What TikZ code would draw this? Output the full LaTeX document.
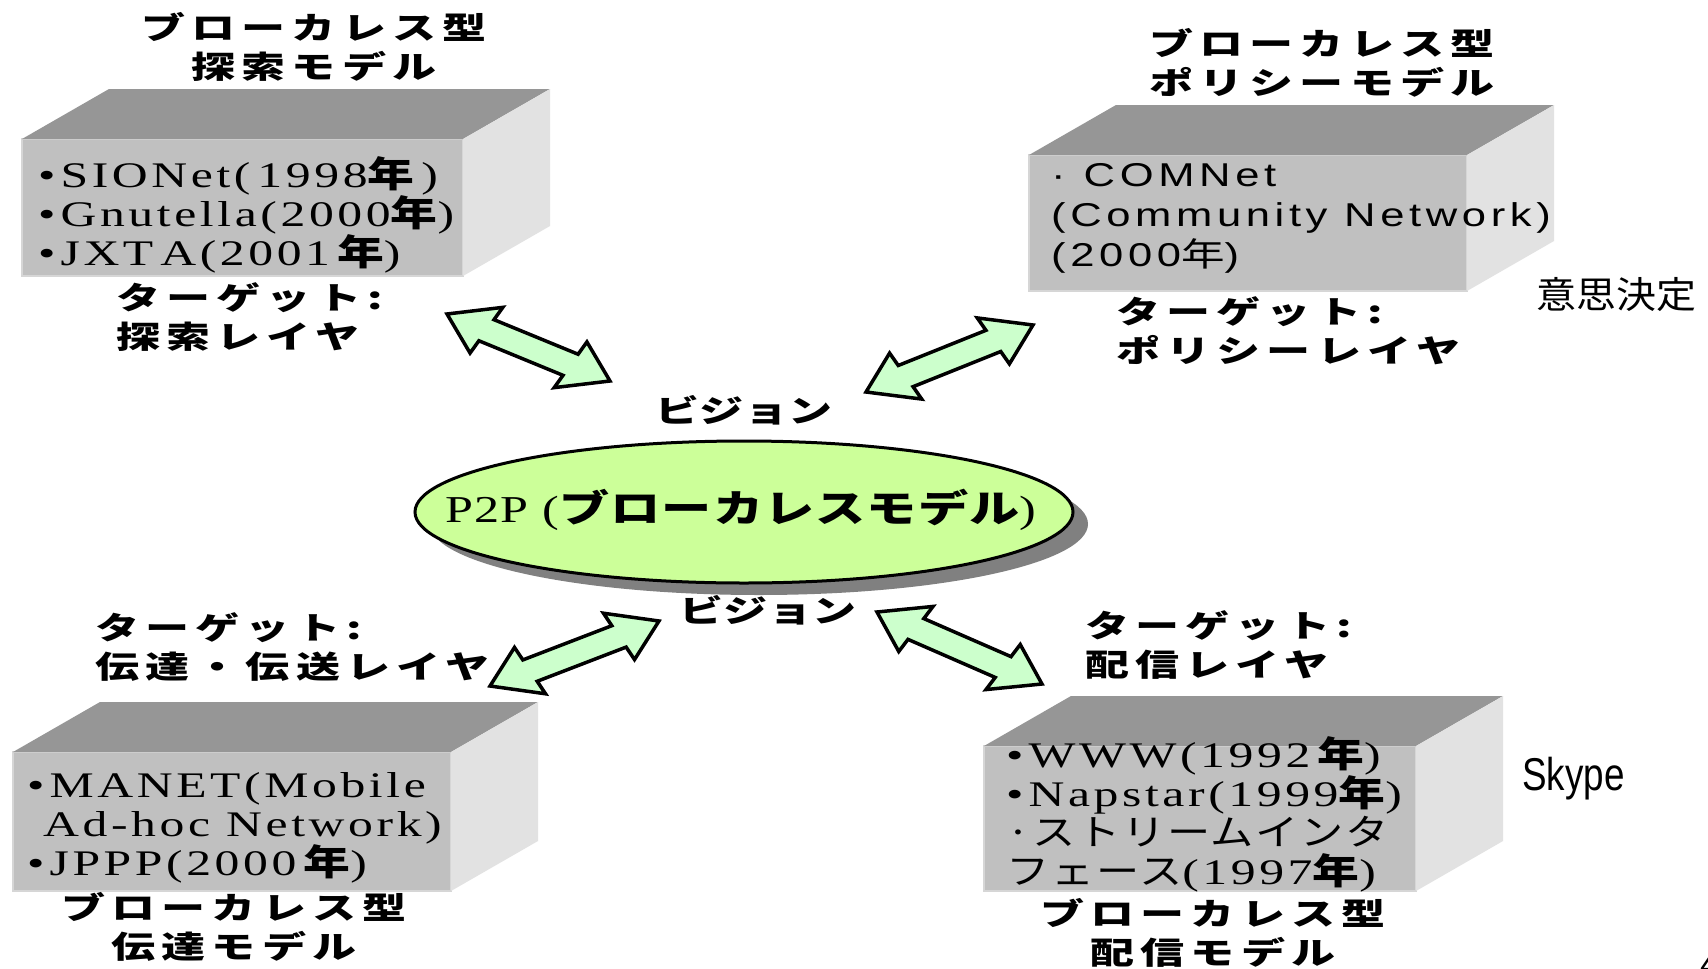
\documentclass[tikz,border=0pt]{standalone}
\usepackage{fontspec}
\usetikzlibrary{shapes.geometric,shadows,calc}
\setmainfont{Liberation Serif}
\newfontfamily\jtitle{Noto Sans CJK JP}[FakeStretch=1.42,LetterSpace=20]
\newfontfamily\jvis{Noto Sans CJK JP}[FakeStretch=1.42,LetterSpace=0]
\newfontfamily\jell{Noto Sans CJK JP}[FakeStretch=1.32,LetterSpace=3]
\newfontfamily\sell{Liberation Serif}[FakeStretch=1.32,LetterSpace=3]
\newfontfamily\bxserif{Liberation Serif}[FakeStretch=1.38,LetterSpace=10]
\newfontfamily\bxsans{Liberation Sans}[FakeStretch=1.32,LetterSpace=14]
\newfontfamily\bxjpb{Noto Sans CJK JP}[FakeStretch=1.3,LetterSpace=10]
\newfontfamily\bxjpr{Noto Sans CJK JP}[FakeStretch=1.2,LetterSpace=5]
\newfontfamily\bxjps{Noto Sans CJK JP}[FakeStretch=1.32,LetterSpace=14]
\newfontfamily\plainjp{Noto Sans CJK JP}[FakeStretch=1.08]
\newfontfamily\skypefont{Liberation Sans}[FakeStretch=0.8]
\newfontfamily\pgfontfam{Liberation Sans}
\newcommand\J[1]{{\bxjpb\bfseries #1}}
\newcommand\Jr[1]{{\bxjpr #1}}
\newcommand\Js[1]{{\bxjps #1}}
\newcommand\bul{•\hspace{5pt}}
\newcommand\gap{\hspace{7pt}}
\definecolor{topc}{HTML}{969696}
\definecolor{frontc}{HTML}{C0C0C0}
\definecolor{frontl}{HTML}{D6D6D6}
\definecolor{sidec}{HTML}{E2E2E2}
\definecolor{ellc}{HTML}{CCFF99}
\definecolor{arrc}{HTML}{CCFFCC}
\newcommand\arrs{1.32}
\newcommand\ahl{34}
\newcommand\ahw{26}
\newcommand\asw{12}
\newcommand\barrow[2]{%
  \path (#1); \pgfgetlastxy{\bxa}{\bya}%
  \path (#2); \pgfgetlastxy{\bxb}{\byb}%
  \pgfmathsetmacro\bdx{(\bxb-\bxa)/\arrs}%
  \pgfmathsetmacro\bdy{\byb-\bya}%
  \pgfmathsetmacro\bL{veclen(\bdx,\bdy)}%
  \pgfmathsetmacro\bth{atan2(\bdy,\bdx)}%
  \pgfmathsetmacro\bLh{\bL-\ahl}%
  \begin{scope}[shift={(\bxa,\bya)}, xscale=\arrs, rotate=\bth]
    \draw[blockarrow] (0pt,0pt) -- (\ahl pt,\ahw pt) -- (\ahl pt,\asw pt)
      -- (\bLh pt,\asw pt) -- (\bLh pt,\ahw pt) -- (\bL pt,0pt)
      -- (\bLh pt,-\ahw pt) -- (\bLh pt,-\asw pt) -- (\ahl pt,-\asw pt)
      -- (\ahl pt,-\ahw pt) -- cycle;
  \end{scope}}
\newcommand\cubefaces[1]{%
  \fill[topc] (#1.north west) -- ++(87,-50) -- ($(#1.north east)+(87,-50)$) -- (#1.north east) -- cycle;
  \fill[sidec] (#1.north east) -- ++(87,-50) -- ($(#1.south east)+(87,-50)$) -- (#1.south east) -- cycle;}
\tikzset{
  front/.style={fill=frontc, draw=frontl, line width=1.5pt, inner sep=0pt, outer sep=0pt, anchor=north west},
  ttl/.style={font={\jtitle\bfseries\fontsize{31pt}{39pt}\selectfont}, align=center, inner sep=0pt},
  vis/.style={font={\jvis\bfseries\fontsize{31pt}{39pt}\selectfont}, inner sep=0pt},
  lbl/.style={font={\jtitle\bfseries\fontsize{31pt}{39pt}\selectfont}, align=left, inner sep=0pt, anchor=west},
  bxs/.style={font={\bxserif\fontsize{36pt}{39pt}\selectfont}, align=left, inner sep=0pt, anchor=west},
  bxa/.style={font={\bxsans\fontsize{33pt}{40pt}\selectfont}, align=left, inner sep=0pt, anchor=west},
  blockarrow/.style={fill=arrc, draw=black, line width=3.5pt, line join=miter},
  ellnode/.style={ellipse, fill=ellc, draw=black, line width=3pt, minimum width=658pt, minimum height=142pt, inner sep=0pt,
    drop shadow={shadow xshift=15pt, shadow yshift=-12pt, opacity=1, fill=black!50}},
  elltext/.style={font={\fontsize{38pt}{40pt}\selectfont}, inner sep=0pt},
  plain/.style={inner sep=0pt, anchor=west}
}
\begin{document}
\begin{tikzpicture}[x=1pt, y=-1pt]
\fill[white] (0,0) rectangle (1708,969);
\useasboundingbox (0,0) rectangle (1708,969);

% cuboids
\node[front, minimum width=441pt, minimum height=137pt] (b1) at (22,139) {};
\cubefaces{b1}
\node[front, minimum width=438pt, minimum height=136pt] (b2) at (1029,155) {};
\cubefaces{b2}
\node[front, minimum width=438pt, minimum height=139pt] (b3) at (13,752) {};
\cubefaces{b3}
\node[front, minimum width=432pt, minimum height=145pt] (b4) at (984,746) {};
\cubefaces{b4}

% titles
\node[ttl] (t1) at (314,47) {ブローカレス型\\探索モデル};
\node[ttl] (t2) at (1322,63) {ブローカレス型\\ポリシーモデル};
\node[ttl] (t3) at (234,927) {ブローカレス型\\伝達モデル};
\node[ttl] (t4) at (1213,933) {ブローカレス型\\配信モデル};

% target labels
\node[lbl] (l1) at (116,317) {ターゲット:\\探索レイヤ};
\node[lbl] (l2) at (1116,331) {ターゲット:\\ポリシーレイヤ};
\node[lbl] (l3) at (95,647) {ターゲット:\\伝達・伝送レイヤ};
\node[lbl] (l4) at (1085,645) {ターゲット:\\配信レイヤ};

% box texts
\node[bxs] (bt1) at (38,215) {\bul SIONet(\gap 1998\J{年}\gap)\\\bul Gnutella(2000\J{年})\\\bul JXT\gap A(2001\gap\J{年})};
\node[bxa] (bt2) at (1051,218) {·\hspace{18pt}COMNet\\(Community Network)\\(2000\Js{年})};
\node[bxs] (bt3) at (27,828) {\bul MANET(Mobile\\\hspace*{16pt}Ad-hoc Network)\\\bul JPPP(2000\gap\J{年})};
\node[bxs] (bt4) at (1006,814) {\bul WWW(1992\gap\J{年})\\\bul Napstar(1999\J{年})\\\Jr{·ストリームインタ}\\\Jr{フェース}(1997\J{年})};

% centre
\node[ellnode] (p2p) at (744,512) {};
\node[elltext] (p2pt) at (741,510) {{\sell P2P (}{\jell\bfseries ブローカレスモデル}{\sell )}};
\node[vis] (v1) at (744,410) {ビジョン};
\node[vis] (v2) at (768,610) {ビジョン};

% side notes
\node[plain, font={\plainjp\fontsize{37pt}{40pt}\selectfont}] (n1) at (1536,295) {意思決定};
\node[plain, font={\skypefont\fontsize{46pt}{48pt}\selectfont}] (n2) at (1522,779) {Skype};
\node[inner sep=0pt, anchor=north west, font={\pgfontfam\fontsize{36pt}{36pt}\selectfont}] (pg) at (1700,952) {4};

% arrows
\coordinate (a1s) at (447,314); \coordinate (a1e) at (610,381);
\coordinate (a2s) at (866,392); \coordinate (a2e) at (1033,325);
\coordinate (a3s) at (490,686); \coordinate (a3e) at (659,621);
\coordinate (a4s) at (877,612); \coordinate (a4e) at (1042,684);
\barrow{a1s}{a1e}
\barrow{a2s}{a2e}
\barrow{a3s}{a3e}
\barrow{a4s}{a4e}
\end{tikzpicture}
\end{document}
